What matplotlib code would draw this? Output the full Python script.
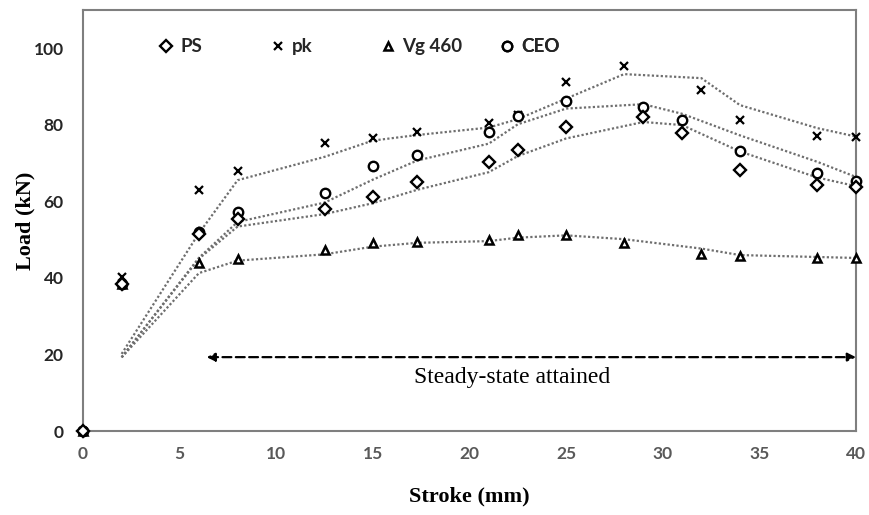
import matplotlib
matplotlib.use("Agg")
import matplotlib.pyplot as plt
import numpy as np

# stroke positions (mm)
x_ps_ceo = [0, 2, 6, 8, 12.5, 15, 17.3, 21, 22.5, 25, 29, 31, 34, 38, 40]
x_pk_vg = [0, 2, 6, 8, 12.5, 15, 17.3, 21, 22.5, 25, 28, 32, 34, 38, 40]

# load values (kN)
load_ps = [0, 38.5, 51.5, 55.3, 58, 61, 65, 70.2, 73.4, 79.4, 82, 77.8, 68.2, 64.2, 63.7]
load_pk = [0, 40.3, 63, 68, 75.2, 76.5, 78.1, 80.4, 82.5, 91.1, 95.3, 89, 81.2, 77, 76.8]
load_vg = [0, 38.5, 44, 45, 47.3, 49, 49.3, 49.9, 51.1, 51.1, 49.1, 46.2, 45.7, 45.2, 45.2]
load_ceo = [0, 38.5, 52, 57.2, 62.1, 69.2, 72.1, 78, 82.2, 86.2, 84.5, 81.2, 73.2, 67.4, 65.3]

labels = ["PS", "pk", "Vg 460", "CEO"]
xticks = [0, 5, 10, 15, 20, 25, 30, 35, 40]
yticks = [0, 20, 40, 60, 80, 100]


def moving_avg(x, y, n=2):
    # two-period moving average trendline
    y = np.asarray(y, dtype=float)
    ma = np.convolve(y, np.ones(n) / n, mode="valid")
    return np.asarray(x[n - 1:]), ma


fig = plt.figure(figsize=(8.69, 5.15), dpi=100)
ax = fig.add_axes([0.0955, 0.163, 0.8895, 0.818])

series = [
    (x_ps_ceo, load_ps, "D", 6.6, 1.7, 5),
    (x_pk_vg, load_pk, "x", 5.6, 1.6, 3),
    (x_pk_vg, load_vg, "^", 5.5, 1.8, 3),
    (x_ps_ceo, load_ceo, "o", 6.8, 1.7, 4),
]

handles = []
for (xs, ys, mk, ms, mew, z), lab in zip(series, labels):
    mx, my = moving_avg(xs, ys)
    ax.plot(mx, my, color="#6e6e6e", lw=1.6, linestyle=(0, (1, 1)), zorder=2)
    h, = ax.plot(xs, ys, linestyle="none", marker=mk, ms=ms, mew=mew,
                 mec="black", mfc="white", color="black", clip_on=False,
                 zorder=z, label=lab)
    handles.append(h)

# steady-state arrow
ax.annotate("", xy=(40, 19.3), xytext=(6.4, 19.3),
            arrowprops=dict(arrowstyle="<|-|>", linestyle=(0, (4, 2)), lw=1.6,
                            color="black", mutation_scale=12,
                            shrinkA=0, shrinkB=0))
ax.text(22.2, 14.1, "Steady-state attained", family="Liberation Serif",
        fontsize=17, ha="center", va="center")

ax.set_xlim(0, 40)
ax.set_ylim(0, 110)
ax.set_xticks(xticks)
ax.set_yticks(yticks)
ax.tick_params(length=0)
ax.tick_params(axis="x", pad=11, labelsize=12.5, labelcolor="#595959")
ax.tick_params(axis="y", pad=14, labelsize=12.5, labelcolor="#262626")
for t in ax.get_xticklabels() + ax.get_yticklabels():
    t.set_family("Lato")
    t.set_fontweight("bold")

for s in ax.spines.values():
    s.set_color("#7f7f7f")
    s.set_linewidth(1.5)

ax.set_xlabel("Stroke (mm)", family="Liberation Serif", fontweight="bold",
              fontsize=16)
ax.set_ylabel("Load (kN)", family="Liberation Serif", fontweight="bold",
              fontsize=16)
ax.xaxis.set_label_coords(0.5, -0.131)
ax.yaxis.set_label_coords(-0.061, 0.5)

# one legend entry per column, evenly spaced along the top
legend_x = [0.0977, 0.2426, 0.3849, 0.5388]
for h, lx in zip(handles, legend_x):
    leg = ax.legend(handles=[h], loc="center left", bbox_to_anchor=(lx, 0.912),
                    frameon=False, borderpad=0, borderaxespad=0,
                    handlelength=0.8, handletextpad=0.35,
                    prop={"family": "Lato", "weight": "bold", "size": 13.5})
    for t in leg.get_texts():
        t.set_color("#262626")
    ax.add_artist(leg)

fig.savefig("out.png", dpi=100)
